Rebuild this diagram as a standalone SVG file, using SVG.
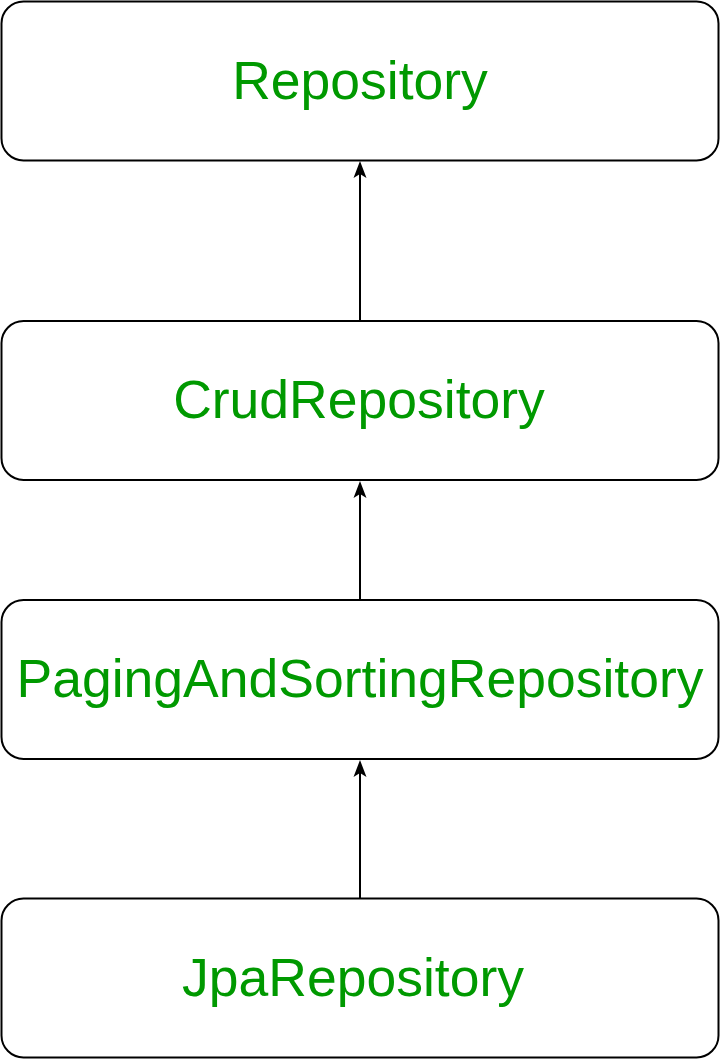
<svg xmlns="http://www.w3.org/2000/svg" width="720" height="1059" viewBox="0 0 720 1059">
<style>
.box{fill:#ffffff;stroke:#000000;stroke-width:2}
.lbl{font-family:"Liberation Sans",Arial,sans-serif;font-size:53.5px;fill:#009900;text-anchor:middle}
.edge{stroke:#000000;stroke-width:2;fill:none}
</style>
<defs>
<marker id="arr" markerWidth="18" markerHeight="14" refX="14" refY="7" orient="auto" markerUnits="userSpaceOnUse" viewBox="0 0 18 14">
<path d="M17,7 L0,0.5 L4,7 L0,13.5 Z" fill="#000000"/>
</marker>
</defs>
<rect width="720" height="1059" fill="#ffffff"/>
<g id="connectors">
<line class="edge" x1="360" y1="320" x2="360" y2="164" marker-end="url(#arr)"/>
<line class="edge" x1="360" y1="599" x2="360" y2="484" marker-end="url(#arr)"/>
<line class="edge" x1="360" y1="898" x2="360" y2="763" marker-end="url(#arr)"/>
</g>
<g id="repository">
<rect class="box" x="1.5" y="1.5" width="717" height="159" rx="22" ry="22"/>
<text class="lbl" x="360" y="99">Repository</text>
</g>
<g id="crudrepository">
<rect class="box" x="1.5" y="321" width="717" height="159" rx="22" ry="22"/>
<text class="lbl" x="359" y="418">CrudRepository</text>
</g>
<g id="pagingandsortingrepository">
<rect class="box" x="1.5" y="600" width="717" height="159" rx="22" ry="22"/>
<text class="lbl" x="360" y="697">PagingAndSortingRepository</text>
</g>
<g id="jparepository">
<rect class="box" x="1.5" y="898.5" width="717" height="159" rx="22" ry="22"/>
<text class="lbl" x="353" y="996">JpaRepository</text>
</g>
</svg>
